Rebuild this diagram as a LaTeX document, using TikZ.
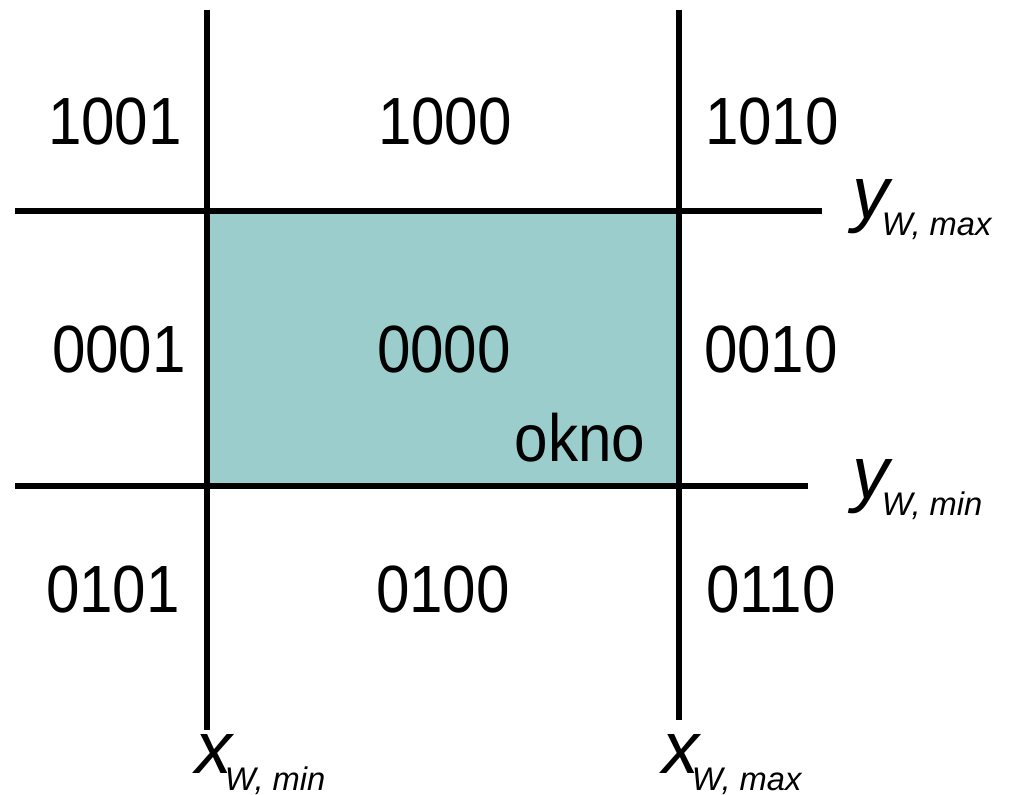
\documentclass[tikz,border=0pt]{standalone}
\usepackage{fontspec}
\setmainfont{Liberation Sans}
\newfontfamily\codefont[FakeStretch=0.9]{Liberation Sans}
\definecolor{OknoTeal}{RGB}{155,205,205}
\usetikzlibrary{positioning}
\newcommand{\wsub}[1]{\kern-2pt\raisebox{-4.8pt}{\fontsize{9.3}{10}\selectfont\itshape W, #1}}

\begin{document}
\begin{tikzpicture}[
      x=0.01cm, y=-0.01cm,
      every node/.style={inner sep=0pt, outer sep=0pt},
      code/.style={anchor=base, font=\codefont\fontsize{19}{21}\selectfont},
      edge/.style={line width=1.6pt},
      bound/.style={anchor=base west, font=\fontsize{21}{23}\selectfont\itshape}
  ]
    \useasboundingbox (0,0) rectangle (1015,795);
    % clipping window
    \fill[OknoTeal] (207,211) rectangle (679,486);
    \draw[edge] (207,10) -- (207,730);
    \draw[edge] (679,10) -- (679,720);
    \draw[edge] (15,211) -- (822,211);
    \draw[edge] (15,486) -- (808,486);
    % region codes
    \node[code] (c1001) at (115,145) {1001};
    \node[code] (c1000) at (445,145) {1000};
    \node[code] (c1010) at (772,145) {1010};
    \node[code] (c0001) at (119,373) {0001};
    \node[code] (c0000) at (444,373) {0000};
    \node[code] (c0010) at (771,373) {0010};
    \node[code] (c0101) at (113,613) {0101};
    \node[code] (c0100) at (443,613) {0100};
    \node[code] (c0110) at (771,613) {0110};
    \node[code] (okno) at (580,462) {okno};
    % window bounds
    \node[bound] (ymax) at (852,219) {y\wsub{max}};
    \node[bound] (ymin) at (852,499) {y\wsub{min}};
    \node[bound] (xmin) at (195,774) {x\wsub{min}};
    \node[bound] (xmax) at (662,774) {x\wsub{max}};
  \end{tikzpicture}
\end{document}
